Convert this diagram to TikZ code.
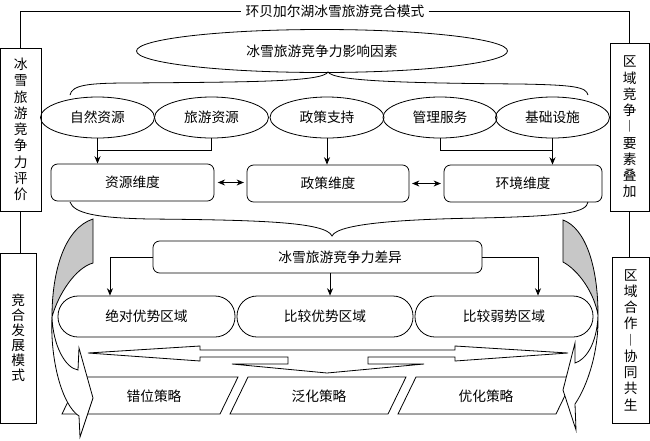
\documentclass[tikz,border=0pt]{standalone}
\usepackage{fontspec}
\setmainfont{Noto Sans CJK SC}
\usetikzlibrary{arrows.meta,shapes.geometric,calc}
\begin{document}
\begin{tikzpicture}[x=0.75pt,y=-0.75pt, line width=0.6pt,
  every node/.style={font=\fontsize{10.3}{12.2}\selectfont, inner sep=0pt},
  arr/.style={-{Stealth[length=5.5pt,width=4.5pt]}},
  darr/.style={{Stealth[length=5.5pt,width=4.5pt]}-{Stealth[length=5.5pt,width=4.5pt]}},
  oval/.style={draw, ellipse, minimum width=114*0.75pt, minimum height=41*0.75pt},
  dimbox/.style={draw, rounded corners=5pt, minimum height=37*0.75pt},
  capsule/.style={draw, rounded corners=15pt, minimum height=41*0.75pt},
  sidebox/.style={draw, align=center},
  horn/.style={draw, fill=black!22},
  band/.style={draw, fill=white},
]
\useasboundingbox (0,0) rectangle (650,440);

% title and side boxes
\node[inner xsep=3pt] (title) at (335,11) {环贝加尔湖冰雪旅游竞合模式};
\node[sidebox, minimum width=40.5*0.75pt, minimum height=163*0.75pt] (L1) at (20.75,129.5) {冰\\雪\\旅\\游\\竞\\争\\力\\评\\价};
\node[sidebox, minimum width=35.5*0.75pt, minimum height=170*0.75pt, font=\fontsize{10.3}{11.25}\selectfont] (L2) at (18.25,338) {竞\\合\\发\\展\\模\\式};
\node[sidebox, minimum width=39.5*0.75pt, minimum height=168*0.75pt] (R1) at (629.75,127) {区\\域\\竞\\争\\︱\\要\\素\\叠\\加};
\node[sidebox, minimum width=37.5*0.75pt, minimum height=166*0.75pt] (R2) at (630.75,340) {区\\域\\合\\作\\︱\\协\\同\\共\\生};
\draw (L1.north) |- (title.west);
\draw (title.east) -| (R1.north);
\draw (L1.south) -- (L1.south |- L2.north);
\draw (R1.south) -- (R1.south |- R2.north);

% influence factors
\node[draw, ellipse, minimum width=371*0.75pt, minimum height=43*0.75pt] (top) at (322,51) {冰雪旅游竞争力影响因素};
\draw (70,95) .. controls (72,85) and (88,83) .. (130,83)
  .. controls (250,82) and (322,82) .. (328,72)
  .. controls (334,81) and (400,83) .. (520,84)
  .. controls (575,85) and (586,87) .. (588,95);

\node[oval] (e1) at (97.5,117.5) {自然资源};
\node[oval] (e2) at (211.5,117.5) {旅游资源};
\node[oval] (e3) at (327,117.5) {政策支持};
\node[oval] (e4) at (440,117.5) {管理服务};
\node[oval] (e5) at (552.5,117.5) {基础设施};

\node[dimbox, minimum width=163*0.75pt] (d1) at (132.5,182.5) {资源维度};
\node[dimbox, minimum width=162*0.75pt] (d2) at (328,183.5) {政策维度};
\node[dimbox, minimum width=158*0.75pt] (d3) at (523,183.5) {环境维度};

\coordinate (y150) at (0,150);
\draw[arr] (e1.south) -- (e1.south |- d1.north);
\draw (e2.south) |- (e1.south |- y150);
\draw[arr] (e3.south) -- (e3.south |- d2.north);
\draw (e4.south) |- (e5.south |- y150);
\draw[arr] (e5.south) -- (e5.south |- d3.north);
\draw[darr] ([xshift=2.5pt]d1.east) -- ([xshift=-2pt]d1.east -| d2.west);
\draw[darr] ([xshift=2pt]d2.east) -- ([xshift=-2pt]d2.east -| d3.west);

\draw (70,202) .. controls (74,213) and (95,218) .. (150,219)
  .. controls (260,220) and (326,222) .. (332,236)
  .. controls (338,222) and (420,219) .. (480,218)
  .. controls (570,216) and (586,212) .. (588,202);

% competitiveness difference
\node[dimbox, minimum width=329*0.75pt, minimum height=32*0.75pt] (diff) at (317.5,257) {\hspace*{34pt}冰雪旅游竞争力差异};
\node[capsule, minimum width=177*0.75pt] (r1) at (146.5,316.5) {绝对优势区域};
\node[capsule, minimum width=176*0.75pt] (r2) at (325,316.5) {比较优势区域};
\node[capsule, minimum width=178*0.75pt] (r3) at (504,316.5) {比较弱势区域};
\draw[arr] (diff.west) -| ([xshift=-27.4pt]r1.north);
\draw[arr] (diff.east) -| ([xshift=25.5pt]r3.north);
\draw[arr] ([xshift=9.4pt]diff.south) -- ([xshift=9.4pt]diff.south |- r2.north);

% strategies
\draw (62,414) -- (80,377) -- (238,377) -- (220,414) -- cycle;
\draw (230,414) -- (248,377) -- (406,377) -- (388,414) -- cycle;
\draw (398,414) -- (416,377) -- (574,377) -- (556,414) -- cycle;
\node (s1) at (154,396) {错位策略};
\node (s2) at (319,396) {泛化策略};
\node (s3) at (486,396) {优化策略};

% double arrow
\draw (200,350) -- (200,346) -- (88,353) -- (200,361) -- (200,357) -- (288,357)
  -- (288,364) -- (232,364) -- (327,373) -- (424,364) -- (368,364) -- (368,357)
  -- (455,357) -- (455,361) -- (568,353) -- (455,346) -- (455,350) -- cycle;

% big curved arrows
\draw[horn] (93,219) -- (93,263) .. controls (75,268) and (58,295) .. (52,317)
  .. controls (52,270) and (65,228) .. (93,219) -- cycle;
\draw[band] (52,317) .. controls (53,345) and (65,368) .. (78,370) -- (79,348)
  -- (93,398) -- (80,437) -- (79,416) .. controls (62,405) and (50,360) .. (52,317) -- cycle;
\draw[horn] (563,220) -- (563,262) .. controls (578,270) and (594,292) .. (598,315)
  .. controls (598,265) and (585,228) .. (563,220) -- cycle;
\draw[band] (598,315) .. controls (597,345) and (585,360) .. (575,363) -- (575,343)
  -- (563,390) -- (576,430) -- (575,404) .. controls (588,385) and (599,350) .. (598,315) -- cycle;
\end{tikzpicture}
\end{document}
